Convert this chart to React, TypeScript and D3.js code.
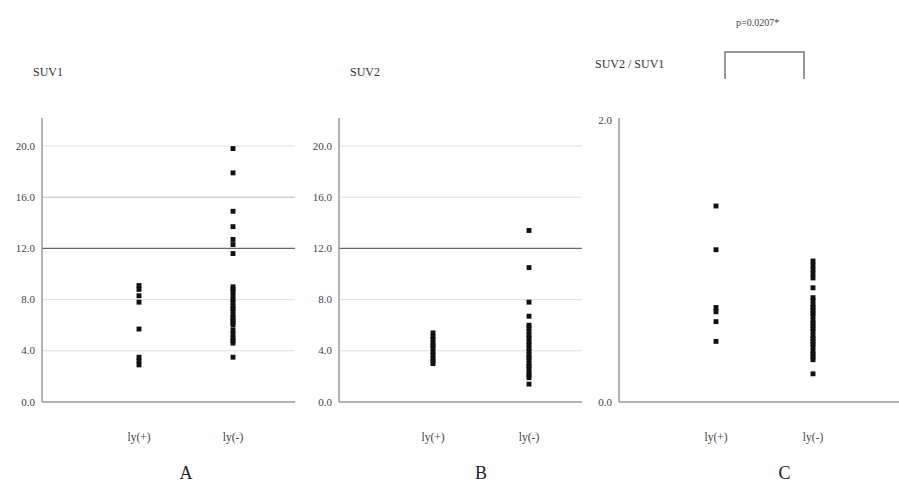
import React from 'react';
import * as d3 from 'd3';

const groups = ['ly(+)', 'ly(-)'];
const groupLabels = ['ly(+)', 'ly(-)'];

// SUV1 (panel A)
const suv1Pos = [9.1, 8.8, 8.3, 7.8, 5.7, 3.5, 3.2, 2.9];
const suv1Neg = [19.8, 17.9, 14.9, 13.7, 12.7, 12.3, 11.6, 9.0, 8.8, 8.6, 8.3, 8.0, 7.8, 7.5, 7.3, 7.1, 6.8, 6.6, 6.4, 6.2, 6.0, 5.6, 5.3, 5.0, 4.8, 4.6, 3.5];

// SUV2 (panel B)
const suv2Pos = [5.4, 5.1, 4.9, 4.6, 4.4, 4.2, 3.9, 3.7, 3.4, 3.2, 3.0];
const suv2Neg = [13.4, 10.5, 7.8, 6.7, 6.0, 5.8, 5.5, 5.2, 5.0, 4.7, 4.5, 4.2, 4.0, 3.7, 3.5, 3.3, 3.0, 2.8, 2.6, 2.3, 2.1, 1.9, 1.4];

// SUV2 / SUV1 (panel C)
const ratioPos = [1.39, 1.08, 0.67, 0.64, 0.57, 0.43];
const ratioNeg = [1.0, 0.97, 0.94, 0.91, 0.88, 0.81, 0.74, 0.72, 0.69, 0.67, 0.65, 0.63, 0.61, 0.58, 0.56, 0.54, 0.52, 0.5, 0.47, 0.45, 0.43, 0.41, 0.39, 0.36, 0.34, 0.32, 0.3, 0.2];

const suvTicks = [0, 4, 8, 12, 16, 20];
const ratioTicks = [0, 2];
const threshold = 12;
const pText = 'p=0.0207*';

const H = 486, W = 899;
const bottom = 402;
const axisTop = 118;
const serif = '"Liberation Serif", "DejaVu Serif", serif';

type PanelProps = {
  title: string; titleX: number; titleY: number; letter: string;
  axisX: number; right: number; cats: [number, number];
  domain: [number, number]; topY: number; ticks: number[];
  series: number[][]; grid: boolean; thresh?: number; strongGrid?: number;
};

function Panel(p: PanelProps) {
  const y = d3.scaleLinear().domain(p.domain).range([bottom, p.topY]);
  const x = d3.scalePoint<string>().domain(groups).range(p.cats);
  const sq = d3.symbol().type(d3.symbolSquare).size(24)();
  const fmt = d3.format('.1f');
  return (
    <g>
      <text x={p.titleX} y={p.titleY} fontFamily={serif} fontSize={12} fill="#333">{p.title}</text>
      {p.grid && p.ticks.filter(t => t > 0 && t !== p.thresh).map(t => (
        <line key={'g' + t} x1={p.axisX} x2={p.right} y1={y(t)} y2={y(t)}
          stroke={t === p.strongGrid ? '#bdbdbd' : '#e0e0e0'} strokeWidth={1} />
      ))}
      {p.thresh !== undefined && (
        <line x1={p.axisX} x2={p.right} y1={y(p.thresh)} y2={y(p.thresh)} stroke="#6a6a6a" strokeWidth={1.3} />
      )}
      <line x1={p.axisX} x2={p.axisX} y1={axisTop} y2={bottom} stroke="#9a9a9a" strokeWidth={1.5} />
      <line x1={p.axisX} x2={p.right} y1={bottom} y2={bottom} stroke="#9a9a9a" strokeWidth={1.5} />
      {p.ticks.map(t => (
        <text key={'t' + t} x={p.axisX - 7} y={y(t) + 3.5} textAnchor="end" fontFamily={serif} fontSize={11} fill="#444">{fmt(t)}</text>
      ))}
      {p.series.map((vals, i) => vals.map((v, j) => (
        <path key={i + '-' + j} d={sq as string} transform={`translate(${x(groups[i])},${y(v)})`} fill="#111" />
      )))}
      {groups.map((g, i) => (
        <text key={g} x={x(g)} y={441} textAnchor="middle" fontFamily={serif} fontSize={11.5} fill="#444">{groupLabels[i]}</text>
      ))}
      <text x={(p.cats[0] + p.cats[1]) / 2 + (p.letter === 'C' ? 20 : 0)} y={479} textAnchor="middle" fontFamily={serif} fontSize={18} fill="#222">{p.letter}</text>
    </g>
  );
}

export default function App() {
  return (
    <svg width={W} height={H} style={{ position: 'absolute', left: 0, top: 0, background: '#fff' }}>
      <rect width={W} height={H} fill="#fff" />
      <Panel title="SUV1" titleX={33} titleY={76} letter="A" axisX={42} right={295}
        cats={[139, 233]} domain={[0, 20]} topY={146} ticks={suvTicks}
        series={[suv1Pos, suv1Neg]} grid thresh={threshold} strongGrid={16} />
      <Panel title="SUV2" titleX={350} titleY={76} letter="B" axisX={339} right={582}
        cats={[433, 529]} domain={[0, 20]} topY={146} ticks={suvTicks}
        series={[suv2Pos, suv2Neg]} grid thresh={threshold} />
      <Panel title="SUV2 / SUV1" titleX={595} titleY={68} letter="C" axisX={619} right={899}
        cats={[716, 813]} domain={[0, 2]} topY={120} ticks={ratioTicks}
        series={[ratioPos, ratioNeg]} grid={false} />
      <path d="M725,79 V52 H804 V79" fill="none" stroke="#777" strokeWidth={1.5} />
      <text x={736} y={26} fontFamily={serif} fontSize={10} fill="#444">{pText}</text>
    </svg>
  );
}
